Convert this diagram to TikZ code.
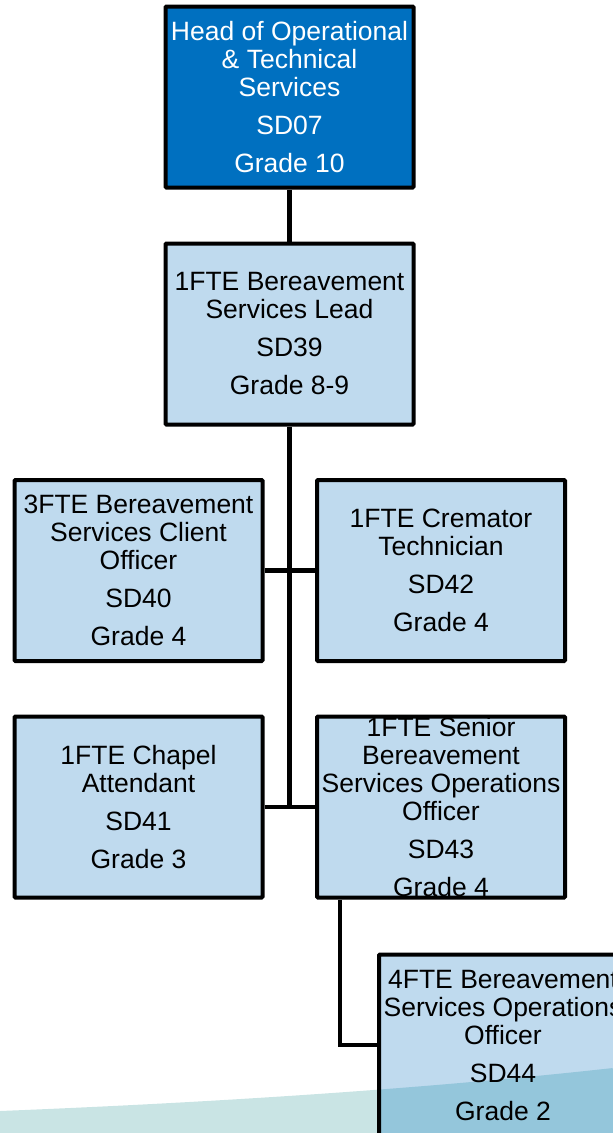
\documentclass[tikz,border=0pt]{standalone}
\usepackage{fontspec}
\setmainfont{Liberation Sans}
\definecolor{topblue}{HTML}{0070C0}
\definecolor{boxblue}{HTML}{BFDAEE}
\definecolor{waveteal}{HTML}{C9E4E4}
\definecolor{wavedark}{HTML}{94C6DB}
\tikzset{
  role/.style={draw=black, line width=4pt, rounded corners=1pt, fill=boxblue,
    minimum width=248pt, minimum height=181pt, inner sep=0pt, align=center,
    font=\fontsize{26.5}{28}\selectfont, text=black},
  headrole/.style={role, fill=topblue, text=white},
  link/.style={line width=4.5pt, draw=black}
}
\begin{document}
\begin{tikzpicture}[x=1pt,y=-1pt]
\useasboundingbox (0,0) rectangle (613,1133);
\coordinate (wA) at (0,1111);
\coordinate (wB) at (250,1101);
\coordinate (wC) at (450,1086);
\coordinate (wD) at (613,1068);
\coordinate (wE) at (640,1145);
\coordinate (wF) at (0,1145);
\fill[waveteal] (wA) .. controls (wB) and (wC) .. (wD) -- (wE) -- (wF) -- cycle;

\node[headrole] (head) at (289.5,97) {Head of Operational\\\& Technical\\Services\\[10pt]SD07\\[10pt]Grade 10};
\node[role] (lead) at (289.5,334) {1FTE Bereavement\\Services Lead\\[10pt]SD39\\[10pt]Grade 8-9};
\node[role] (sd40) at (138.5,570.5) {3FTE Bereavement\\Services Client\\Officer\\[10pt]SD40\\[10pt]Grade 4};
\node[role] (sd42) at (441,570.5) {1FTE Cremator\\Technician\\[10pt]SD42\\[10pt]Grade 4};
\node[role] (sd41) at (138.5,807) {1FTE Chapel\\Attendant\\[10pt]SD41\\[10pt]Grade 3};
\node[role] (sd43) at (441,807) {1FTE Senior\\Bereavement\\Services Operations\\Officer\\[10pt]SD43\\[10pt]Grade 4};
\node[role, path picture={\fill[wavedark] (wA) .. controls (wB) and (wC) .. (wD) -- (wE) -- (wF) -- cycle;}] (sd44) at (503,1045) {4FTE Bereavement\\Services Operations\\Officer\\[10pt]SD44\\[10pt]Grade 2};

\coordinate (junc) at (lead.south |- sd41.east);
\draw[link] (head.south) -- (lead.north);
\draw[link] (lead.south) -- (junc);
\draw[link] (sd40.east) -- (sd42.west);
\draw[link] (sd41.east) -- (sd43.west);
\draw[link] ([xshift=25pt]sd43.south west) |- (sd44.west);
\end{tikzpicture}
\end{document}
